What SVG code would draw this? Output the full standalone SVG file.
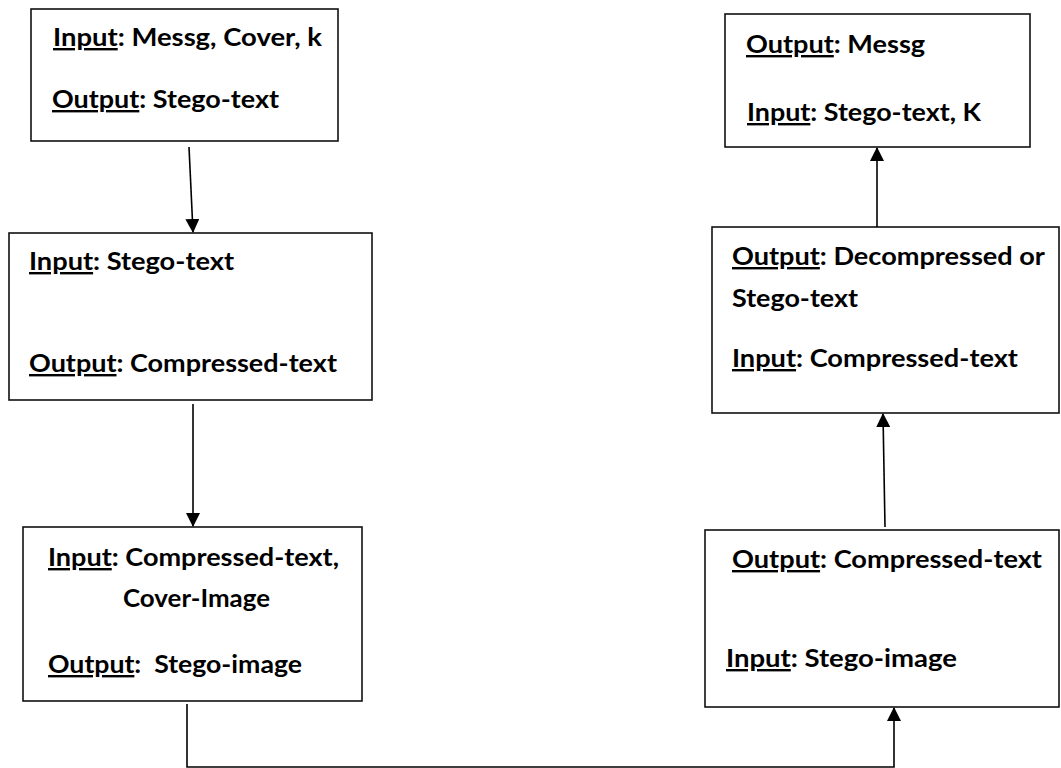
<svg xmlns="http://www.w3.org/2000/svg" width="1061" height="768" viewBox="0 0 1061 768">
<style>
.box{fill:#fff;stroke:#111;stroke-width:1.6}
.t{font-family:Lato,"Open Sans","Liberation Sans",sans-serif;font-weight:bold;font-size:24px;fill:#000}
.u{text-decoration:underline}
.c{fill:none;stroke:#000;stroke-width:1.6}
</style>
<defs>
<marker id="ah" markerWidth="14" markerHeight="14" refX="13" refY="7" orient="auto" markerUnits="userSpaceOnUse">
<path d="M0,0 L14,7 L0,14 Z" fill="#000"/>
</marker>
</defs>
<rect width="1061" height="768" fill="#fff"/>
<g id="n1">
<rect class="box" x="31" y="9" width="307" height="132"/>
<text class="t" x="53" y="46" textLength="269" lengthAdjust="spacingAndGlyphs"><tspan class="u">Input</tspan>: Messg, Cover, k</text>
<text class="t" x="52" y="108" textLength="227" lengthAdjust="spacingAndGlyphs"><tspan class="u">Output</tspan>: Stego-text</text>
</g>
<g id="n2">
<rect class="box" x="9" y="233" width="363" height="167"/>
<text class="t" x="29" y="270" textLength="205" lengthAdjust="spacingAndGlyphs"><tspan class="u">Input</tspan>: Stego-text</text>
<text class="t" x="29" y="372" textLength="308" lengthAdjust="spacingAndGlyphs"><tspan class="u">Output</tspan>: Compressed-text</text>
</g>
<g id="n3">
<rect class="box" x="23" y="527" width="339" height="174"/>
<text class="t" x="48" y="566" textLength="291" lengthAdjust="spacingAndGlyphs"><tspan class="u">Input</tspan>: Compressed-text,</text>
<text class="t" x="123" y="607" textLength="147" lengthAdjust="spacingAndGlyphs">Cover-Image</text>
<text class="t" x="48" y="673" textLength="254" lengthAdjust="spacingAndGlyphs" xml:space="preserve"><tspan class="u">Output</tspan>:  Stego-image</text>
</g>
<g id="n4">
<rect class="box" x="712" y="227" width="347" height="186"/>
<text class="t" x="732" y="265" textLength="313" lengthAdjust="spacingAndGlyphs"><tspan class="u">Output</tspan>: Decompressed or</text>
<text class="t" x="732" y="307" textLength="126" lengthAdjust="spacingAndGlyphs">Stego-text</text>
<text class="t" x="732" y="367" textLength="286" lengthAdjust="spacingAndGlyphs"><tspan class="u">Input</tspan>: Compressed-text</text>
</g>
<g id="n5">
<rect class="box" x="725" y="14" width="305" height="133"/>
<text class="t" x="746" y="53" textLength="179" lengthAdjust="spacingAndGlyphs"><tspan class="u">Output</tspan>: Messg</text>
<text class="t" x="747" y="121" textLength="234" lengthAdjust="spacingAndGlyphs"><tspan class="u">Input</tspan>: Stego-text, K</text>
</g>
<g id="n6">
<rect class="box" x="705" y="530" width="354" height="177"/>
<text class="t" x="732" y="568" textLength="310" lengthAdjust="spacingAndGlyphs"><tspan class="u">Output</tspan>: Compressed-text</text>
<text class="t" x="726" y="667" textLength="231" lengthAdjust="spacingAndGlyphs"><tspan class="u">Input</tspan>: Stego-image</text>
</g>
<g id="connectors">
<line class="c" x1="189" y1="147" x2="193" y2="232" marker-end="url(#ah)"/>
<line class="c" x1="193" y1="404" x2="193" y2="526" marker-end="url(#ah)"/>
<polyline class="c" points="187,704 187,767 894,767 894,708" marker-end="url(#ah)"/>
<line class="c" x1="885" y1="527" x2="883" y2="414" marker-end="url(#ah)"/>
<line class="c" x1="877" y1="227" x2="877" y2="148" marker-end="url(#ah)"/>
</g>
</svg>
